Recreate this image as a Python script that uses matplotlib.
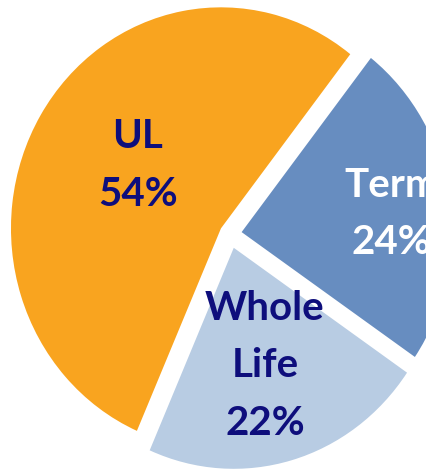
import numpy as np
import matplotlib
matplotlib.use('Agg')
import matplotlib.pyplot as plt

# data
categories = ["UL", "Whole\nLife", "Term"]
shares = [54, 22, 24]
colors = ["#F9A41F", "#B8CCE3", "#678DC0"]
text_colors = ["#0E0E7C", "#0E0E7C", "white"]
explode = [0.05, 0.065, 0.056]

fig = plt.figure(figsize=(4.26, 4.69), dpi=100)
ax = fig.add_axes([0, 0, 1, 1])
wedges, _ = ax.pie(shares, colors=colors, explode=explode, startangle=52,
                   counterclock=True, radius=1.0,
                   wedgeprops=dict(linewidth=0))

# pie is a bit taller than wide and bigger than the canvas, crop it
rx, ry = 210.0, 221.0
cx, cy = 230.0, 234.0
ax.set_xlim(-cx / rx, (426 - cx) / rx)
ax.set_ylim(-(469 - cy) / ry, cy / ry)
ax.set_aspect('auto')
ax.axis('off')

label_r = [0.487, 0.554, 0.719]
label_shift = [-5, -0.5, -2.3]
for w, cat, val, tc, lr, sh in zip(wedges, categories, shares, text_colors,
                                   label_r, label_shift):
    mid = np.deg2rad((w.theta1 + w.theta2) / 2 + sh)
    x0, y0 = w.center
    ax.text(x0 + lr * np.cos(mid), y0 + lr * np.sin(mid),
            f"{cat}\n{val}%", ha='center', va='center', color=tc,
            fontsize=29, fontweight='bold', family=['Lato', 'DejaVu Sans'],
            linespacing=1.68, clip_on=False)

plt.savefig('out.png', dpi=100)
plt.close('all')
